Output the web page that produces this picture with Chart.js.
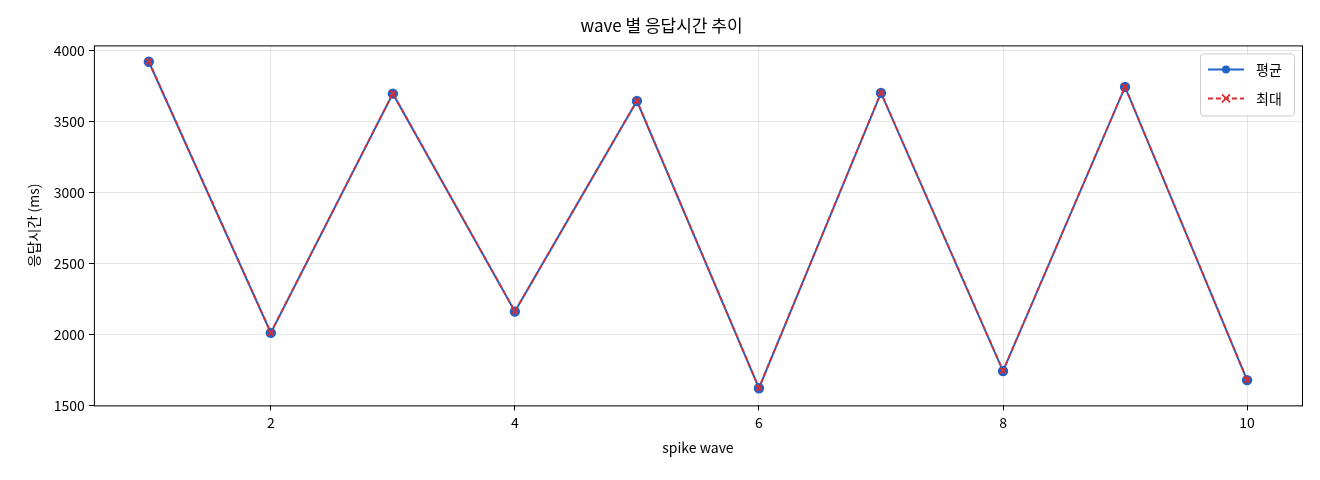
<!DOCTYPE html>
<html><head><meta charset="utf-8">
<script src="https://cdn.jsdelivr.net/npm/chart.js@4"></script>
<style>html,body{margin:0;padding:0;background:#fff}#w{width:1320px;height:480px}</style>
</head><body><div id="w"><canvas id="c"></canvas></div>
<script>
const waves = [1,2,3,4,5,6,7,8,9,10];
const avgMs = [3922,2011,3697,2161,3645,1621,3702,1742,3744,1678];
const maxMs = [3925,2013,3699,2163,3647,1623,3704,1744,3746,1680];
const titleText = 'wave 별 응답시간 추이';
const xTitle = 'spike wave';
const yTitle = '응답시간 (ms)';
const seriesNames = ['평균','최대'];
const BLUE = '#1f63c6', RED = '#d62f35';
const FONT = "'Noto Sans CJK KR','Noto Sans',sans-serif";

const frame = {
  id:'frame',
  afterDraw(ch){
    const {ctx, chartArea:a} = ch;
    ctx.save();
    ctx.strokeStyle='#000'; ctx.lineWidth=1;
    ctx.strokeRect(a.left+0.5,a.top+0.5,a.right-a.left,a.bottom-a.top);
    const bx=a.right-102, by=a.top+8, bw=94, bh=62;
    ctx.fillStyle='rgba(255,255,255,0.85)'; ctx.strokeStyle='#ccc';
    ctx.beginPath(); ctx.roundRect(bx+0.5,by+0.5,bw,bh,3); ctx.fill(); ctx.stroke();
    ch.data.datasets.forEach((d,i)=>{
      const y=by+16+i*29;
      ctx.strokeStyle=d.borderColor; ctx.lineWidth=2;
      ctx.setLineDash(d.borderDash||[]);
      ctx.beginPath(); ctx.moveTo(bx+8,y); ctx.lineTo(bx+44,y); ctx.stroke();
      ctx.setLineDash([]);
      if(i===0){ctx.fillStyle=d.borderColor;ctx.beginPath();ctx.arc(bx+26,y,4,0,Math.PI*2);ctx.fill();}
      else{ctx.lineWidth=1.8;ctx.beginPath();ctx.moveTo(bx+22,y-4);ctx.lineTo(bx+30,y+4);ctx.moveTo(bx+30,y-4);ctx.lineTo(bx+22,y+4);ctx.stroke();}
      ctx.fillStyle='#000'; ctx.font='14px '+FONT; ctx.textBaseline='middle';
      ctx.fillText(d.label,bx+56,y);
    });
    ctx.restore();
  }
};

new Chart(document.getElementById('c'),{
  type:'line',
  data:{datasets:[
    {label:seriesNames[0],order:2,data:waves.map((x,i)=>({x,y:avgMs[i]})),borderColor:BLUE,backgroundColor:BLUE,borderWidth:2,pointRadius:4.2,pointStyle:'circle',pointBackgroundColor:BLUE,pointBorderColor:BLUE,tension:0},
    {label:seriesNames[1],order:1,data:waves.map((x,i)=>({x,y:maxMs[i]})),borderColor:RED,backgroundColor:RED,borderWidth:1.8,borderDash:[5,3],pointRadius:4,pointStyle:'crossRot',pointBorderColor:RED,pointBorderWidth:2,tension:0}
  ]},
  options:{
    responsive:true,maintainAspectRatio:false,animation:false,
    layout:{padding:{left:21,right:18,top:9,bottom:20}},
    plugins:{legend:{display:false},tooltip:{enabled:false},
      title:{display:true,text:titleText,color:'#000',font:{family:FONT,size:17,weight:'normal'},padding:{top:6,bottom:10}}},
    scales:{
      x:{type:'linear',min:0.55,max:10.45,
        afterBuildTicks(s){s.ticks=[2,4,6,8,10].map(v=>({value:v}));},
        grid:{color:'rgba(0,0,0,0.1)',drawTicks:true,tickColor:'#000',tickLength:5},border:{display:false},
        ticks:{color:'#000',font:{family:FONT,size:14},padding:4,callback:v=>String(v)},
        title:{display:true,text:xTitle,color:'#000',font:{family:FONT,size:14},padding:{top:4}}},
      y:{min:1500,max:4037,
        afterBuildTicks(s){s.ticks=[1500,2000,2500,3000,3500,4000].map(v=>({value:v}));},
        grid:{color:'rgba(0,0,0,0.1)',tickColor:'#000',tickLength:5},border:{display:false},
        ticks:{color:'#000',font:{family:FONT,size:14},padding:4,callback:v=>String(v)},
        title:{display:true,text:yTitle,color:'#000',font:{family:FONT,size:14},padding:{bottom:8}}}
    }
  },
  plugins:[frame]
});
</script></body></html>
